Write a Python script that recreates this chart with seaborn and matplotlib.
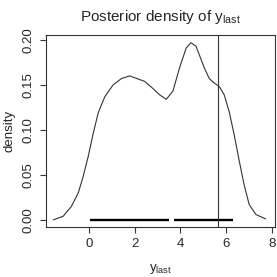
import matplotlib
matplotlib.use("Agg")
import matplotlib.pyplot as plt
import seaborn as sns
import pandas as pd

# density curve
x_vals = [-1.55, -1.12, -0.76, -0.46, -0.25, -0.03, 0.19, 0.41, 0.70, 1.06,
          1.42, 1.78, 2.00, 2.43, 2.80, 3.09, 3.38, 3.67, 3.96, 4.25,
          4.46, 4.68, 4.83, 5.04, 5.26, 5.48, 5.70, 5.91, 6.13, 6.35,
          6.57, 6.78, 7.00, 7.29, 7.72]
dens = [0.000, 0.004, 0.015, 0.030, 0.048, 0.070, 0.096, 0.119, 0.137, 0.150,
        0.157, 0.160, 0.158, 0.154, 0.146, 0.139, 0.134, 0.143, 0.169, 0.191,
        0.197, 0.193, 0.183, 0.169, 0.157, 0.152, 0.148, 0.139, 0.120, 0.094,
        0.065, 0.039, 0.017, 0.006, 0.001]

# intervals drawn on the baseline and the observed value
intervals = [(0.04, 3.49), (3.74, 6.30)]
y_obs = 5.62

sns.set_style("ticks")
plt.rcParams["font.family"] = ["Liberation Sans", "DejaVu Sans"]
plt.rcParams["mathtext.fontset"] = "custom"
plt.rcParams["mathtext.rm"] = "Liberation Sans"
plt.rcParams["mathtext.it"] = "Liberation Sans"

fig = plt.figure(figsize=(2.77, 2.77), dpi=100)
ax = fig.add_axes([0.166, 0.181, 0.827, 0.693])

df = pd.DataFrame({"x": x_vals, "density": dens})
sns.lineplot(data=df, x="x", y="density", color="#333333", linewidth=0.8, ax=ax)

for lo, hi in intervals:
    ax.plot([lo, hi], [0, 0], color="black", linewidth=1.7, solid_capstyle="butt")
ax.axvline(y_obs, color="#333333", linewidth=0.8)

ax.set_xlim(-1.87, 8.13)
ax.set_ylim(-0.0078, 0.2056)
ax.set_xticks([0, 2, 4, 6, 8])
ax.set_yticks([0.0, 0.05, 0.10, 0.15, 0.20])
ax.set_yticklabels(["0.00", "0.05", "0.10", "0.15", "0.20"], rotation=90, va="center")
ax.tick_params(labelsize=9.5, length=4.3, width=0.8, pad=4, color="#333333")
for s in ax.spines.values():
    s.set_linewidth(0.8)
    s.set_color("#333333")

ax.set_xlabel(r"y$_{\mathrm{last}}$", fontsize=9.5, labelpad=8)
ax.set_ylabel("density", fontsize=9.5, labelpad=5)
ax.set_title(r"Posterior density of y$_{\mathrm{last}}$", fontsize=11, pad=10)

plt.savefig("out.png", dpi=100)
